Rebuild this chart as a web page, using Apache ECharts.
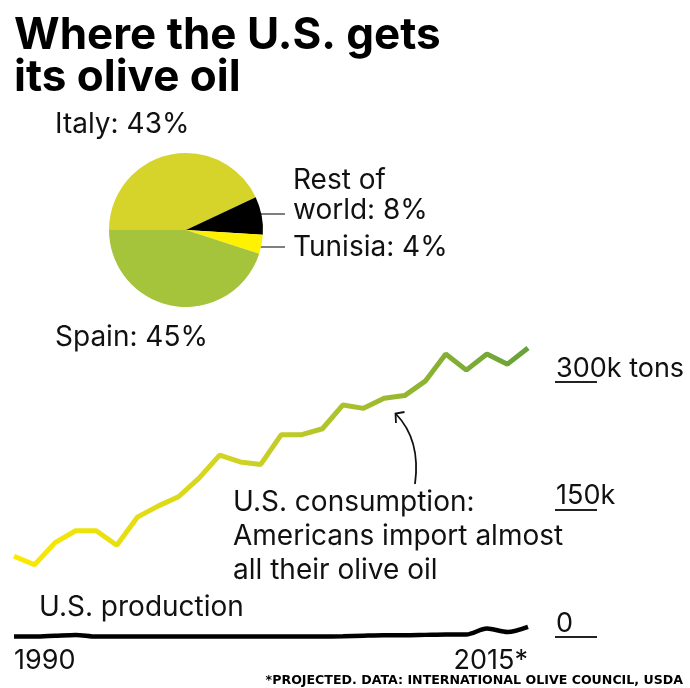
<!DOCTYPE html>
<html>
<head>
<meta charset="utf-8">
<title>Where the U.S. gets its olive oil</title>
<script src="https://cdn.jsdelivr.net/npm/echarts@6/dist/echarts.min.js"></script>
<style>
  html, body { margin: 0; padding: 0; background: #fff; }
  #chart { width: 690px; height: 688px; }
</style>
</head>
<body>
<div id="chart"></div>
<script>
// Import shares by origin (percent)
const originNames = ['Italy', 'Rest of world', 'Tunisia', 'Spain'];
const originShares = [43, 8, 4, 45];
const originColors = ['#d6d42b', '#000000', '#fff200', '#a6c43b'];

// Yearly series, thousand tons
const years = ['1990', '1991', '1992', '1993', '1994', '1995', '1996', '1997', '1998',
  '1999', '2000', '2001', '2002', '2003', '2004', '2005', '2006', '2007', '2008',
  '2009', '2010', '2011', '2012', '2013', '2014', '2015'];
const consumption = [95, 85, 111, 125, 125, 108, 141, 154, 165, 187, 214, 206, 203,
  238, 238, 245, 273, 269, 281, 284, 301, 333, 314, 333, 321, 340];
const production = [0.5, 0.5, 1.5, 2.5, 0.5, 0.5, 0.5, 0.5, 0.5, 0.5, 0.5, 0.5, 0.5,
  0.5, 0.5, 0.5, 0.8, 1.5, 2, 2, 2.5, 3, 3, 10, 6, 12];

// Axis ticks and their labels
const tickValues = [0, 150, 300];
const tickLabels = ['0', '150k', '300k tons'];

const FONT = 'Inter, "Liberation Sans", sans-serif';
const INK = '#111111';

const chart = echarts.init(document.getElementById('chart'), null, { renderer: 'canvas' });

const pieCenter = [186, 230];
const pieRadius = 77;

// label anchors for the pie, keyed by slice name
const pieLabelPos = {
  'Italy': { x: 55, y: 125 },
  'Rest of world': { x: 293, y: 196, lineY: 214 },
  'Tunisia': { x: 293, y: 248, lineY: 247 },
  'Spain': { x: 55, y: 338 }
};

const option = {
  backgroundColor: '#ffffff',
  animation: false,
  title: [
    {
      text: 'Where the U.S. gets\nits olive oil',
      left: 9,
      top: 10,
      textStyle: { fontFamily: FONT, fontSize: 44, fontWeight: 'bold', lineHeight: 42, color: '#000' }
    },
    {
      text: '*PROJECTED. DATA: INTERNATIONAL OLIVE COUNCIL, USDA',
      right: 2,
      bottom: -4,
      textStyle: { fontFamily: '"DejaVu Sans", sans-serif', fontSize: 12.6, fontWeight: 'bold', color: '#000' }
    }
  ],
  grid: { left: 14, right: 162, top: 339.5, bottom: 51 },
  xAxis: {
    type: 'category',
    data: years,
    boundaryGap: false,
    axisLine: { show: false },
    axisTick: { show: false },
    axisLabel: {
      interval: (i) => i === 0 || i === years.length - 1,
      formatter: (v) => (v === years[years.length - 1] ? v + '*' : v),
      alignMinLabel: 'left',
      alignMaxLabel: 'right',
      margin: 10,
      fontFamily: FONT,
      fontSize: 27,
      color: INK
    }
  },
  yAxis: {
    type: 'value',
    position: 'right',
    offset: 27,
    min: 0,
    max: 350,
    splitLine: { show: false },
    axisLine: { show: false },
    axisTick: {
      show: true,
      inside: false,
      length: 42,
      customValues: tickValues,
      lineStyle: { color: '#222', width: 2 }
    },
    axisLabel: {
      customValues: tickValues,
      formatter: (v) => tickLabels[tickValues.indexOf(v)],
      margin: 1,
      align: 'left',
      verticalAlign: 'bottom',
      fontFamily: FONT,
      fontSize: 27,
      color: INK
    }
  },
  series: [
    {
      type: 'pie',
      center: pieCenter,
      radius: pieRadius,
      startAngle: 180,
      clockwise: true,
      silent: true,
      itemStyle: { borderWidth: 0 },
      emphasis: { disabled: true },
      data: originNames.map((n, i) => ({ name: n, value: originShares[i], itemStyle: { color: originColors[i] } })),
      label: {
        show: true,
        position: 'outside',
        fontFamily: FONT,
        fontSize: 28,
        lineHeight: 30,
        color: INK,
        formatter: (p) => (p.name === 'Rest of world' ? 'Rest of\nworld' : p.name) + ': ' + p.percent + '%'
      },
      labelLine: { show: true, length: 0, length2: 0, lineStyle: { color: '#555', width: 1.5 } },
      labelLayout: (params) => {
        const name = originNames[params.dataIndex];
        const pos = pieLabelPos[name];
        const out = { x: pos.x, y: pos.y, align: 'left', verticalAlign: 'middle' };
        if (pos.lineY !== undefined) {
          const dy = pos.lineY - pieCenter[1];
          const edgeX = pieCenter[0] + Math.sqrt(pieRadius * pieRadius - dy * dy) - 2;
          out.labelLinePoints = [[edgeX, pos.lineY], [edgeX, pos.lineY], [285, pos.lineY]];
        } else {
          out.labelLinePoints = [[0, 0], [0, 0], [0, 0]];
        }
        return out;
      }
    },
    {
      name: 'U.S. consumption',
      type: 'line',
      data: consumption,
      symbol: 'none',
      silent: true,
      lineStyle: {
        width: 5,
        color: new echarts.graphic.LinearGradient(0, 0, 1, 0, [
          { offset: 0, color: '#fbea00' },
          { offset: 0.45, color: '#cfd224' },
          { offset: 1, color: '#66a13a' }
        ])
      }
    },
    {
      name: 'U.S. production',
      type: 'line',
      data: production,
      symbol: 'none',
      silent: true,
      smooth: 0.3,
      lineStyle: { width: 4.5, color: '#000' }
    }
  ],
  graphic: [
    {
      type: 'text',
      left: 233,
      top: 486,
      style: {
        text: 'U.S. consumption:\nAmericans import almost\nall their olive oil',
        fontFamily: FONT,
        fontSize: 28,
        lineHeight: 34,
        fill: INK
      }
    },
    {
      type: 'text',
      left: 39,
      top: 594,
      style: { text: 'U.S. production', fontFamily: FONT, fontSize: 28, fill: INK }
    },
    {
      type: 'bezierCurve',
      shape: { x1: 415, y1: 484, x2: 396, y2: 414, cpx1: 421, cpy1: 440 },
      style: { stroke: INK, lineWidth: 1.8, fill: null }
    },
    {
      type: 'polyline',
      shape: { points: [[404.5, 412], [395.5, 413.5], [396, 423]] },
      style: { stroke: INK, lineWidth: 1.8, fill: null }
    }
  ]
};

chart.setOption(option);
</script>
</body>
</html>
